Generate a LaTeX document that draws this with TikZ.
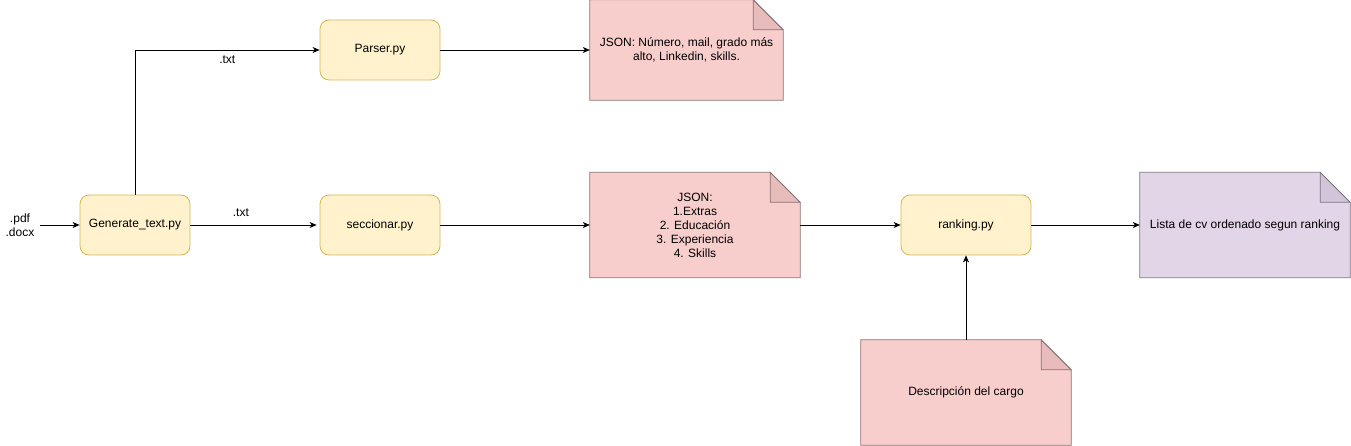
\documentclass[tikz,border=0pt]{standalone}
\usepackage{fontspec}
\setmainfont{Liberation Sans}
\usetikzlibrary{arrows.meta,backgrounds,calc}
\definecolor{yfill}{HTML}{FFF2CC}
\definecolor{ydraw}{HTML}{D6B656}
\definecolor{rfill}{HTML}{F8CECC}
\definecolor{rdraw}{HTML}{B85450}
\definecolor{rfold}{HTML}{E8BCBB}
\definecolor{pfill}{HTML}{E1D5E7}
\definecolor{pdraw}{HTML}{9673A6}
\definecolor{pfold}{HTML}{D2C4D9}
\newcommand{\foldnote}[3]{%
  \begin{scope}[on background layer]
    \fill[#2] (#1.north west) -- ([xshift=-30pt]#1.north east) -- ([yshift=-30pt]#1.north east) -- (#1.south east) -- (#1.south west) -- cycle;
    \filldraw[fill=#3, draw=#3!60!black, line width=0.8pt] ([xshift=-30pt]#1.north east) -- ([xshift=-30pt,yshift=-30pt]#1.north east) -- ([yshift=-30pt]#1.north east) -- cycle;
    \draw[draw=#3!60!black, line width=0.8pt] (#1.north west) -- ([xshift=-30pt]#1.north east) -- ([yshift=-30pt]#1.north east) -- (#1.south east) -- (#1.south west) -- cycle;
  \end{scope}}
\tikzset{
  x=1pt, y=-1pt,
  every node/.style={font=\fontsize{12}{14}\selectfont, inner sep=0pt},
  proc/.style={draw=ydraw, fill=yfill, rounded corners=9pt, line width=0.8pt, align=center},
  note/.style={align=center},
  conn/.style={line width=0.8pt, -{Stealth[length=7pt,width=6pt,inset=2pt]}},
  lbl/.style={align=center}
}
\begin{document}
\begin{tikzpicture}
\useasboundingbox (0,0) rectangle (1351,446);
% process boxes
\node[proc, minimum width=110pt, minimum height=60pt] (gen) at (135,225) {Generate\_text.py};
\node[proc, minimum width=120pt, minimum height=60pt] (parser) at (380,50) {Parser.py};
\node[proc, minimum width=120pt, minimum height=60pt] (secc) at (380,225) {seccionar.py};
\node[proc, minimum width=130pt, minimum height=60pt] (rank) at (966,225) {ranking.py};
% notes
\node[note, minimum width=193pt, minimum height=100pt] (n1) at (686.5,50) {JSON: Número, mail, grado más\\alto, Linkedin, skills.};
\node[note, minimum width=210pt, minimum height=105pt] (n2) at (695,225) {JSON:\\1.Extras\\2. Educación\\3. Experiencia\\4. Skills};
\node[note, minimum width=210pt, minimum height=105pt] (n3) at (1245,225) {Lista de cv ordenado segun ranking};
\node[note, minimum width=210pt, minimum height=105pt] (n4) at (966,392.5) {Descripción del cargo};
\foldnote{n1}{rfill}{rfold}
\foldnote{n2}{rfill}{rfold}
\foldnote{n3}{pfill}{pfold}
\foldnote{n4}{rfill}{rfold}
% input
\node[lbl] (inp) at (20,225) {.pdf\\.docx};
\coordinate (inpE) at (40,225);
% connectors
\draw[conn] (inpE) -- (gen.west);
\draw[conn] (gen.north) |- (parser.west) node[pos=0.75, below=5pt] {.txt};
\draw[conn] (gen.east) -- ([xshift=-3pt]secc.west) node[pos=0.4, above=8pt] {.txt};
\draw[conn] (parser.east) -- (n1.west);
\draw[conn] (secc.east) -- (n2.west);
\draw[conn] (n2.east) -- (rank.west);
\draw[conn] (rank.east) -- (n3.west);
\draw[conn] (n4.north) -- (rank.south);
\end{tikzpicture}
\end{document}
